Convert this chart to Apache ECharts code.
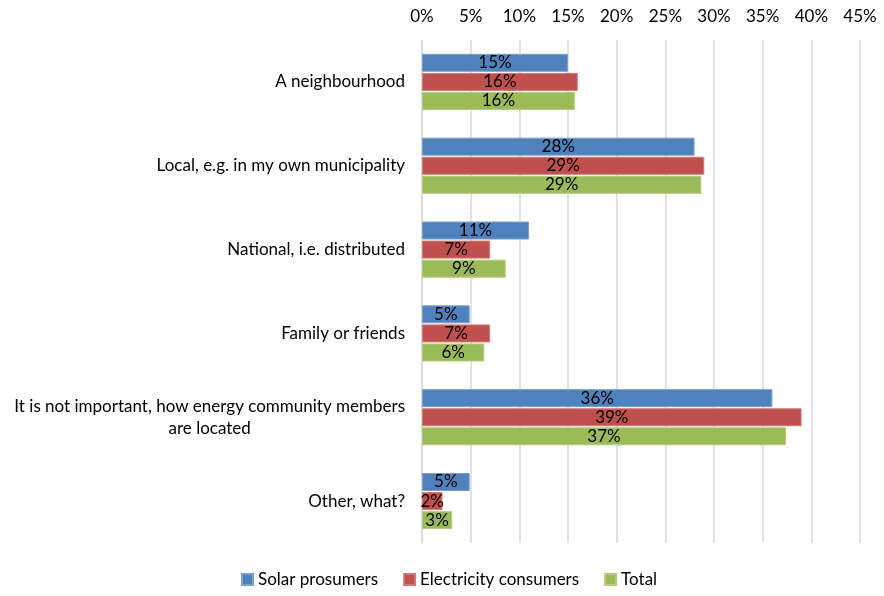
<!DOCTYPE html>
<html>
<head>
<meta charset="utf-8">
<script src="https://cdn.jsdelivr.net/npm/echarts@6/dist/echarts.min.js"></script>
<style>
  html, body { margin: 0; padding: 0; background: #fff; }
  #chart { width: 884px; height: 596px; }
</style>
</head>
<body>
<div id="chart"></div>
<script>
// Where energy community members should be located (share of respondents, %)
const categories = [
  'A neighbourhood',
  'Local, e.g. in my own municipality',
  'National, i.e. distributed',
  'Family or friends',
  'It is not important, how energy community members\nare located',
  'Other, what?'
];
const solarProsumers = [15.0, 28.0, 11.0, 4.9, 36.0, 4.9];
const electricityConsumers = [16.0, 29.0, 7.0, 7.0, 39.0, 2.1];
const total = [15.7, 28.7, 8.6, 6.4, 37.4, 3.1];
const xTicks = [0, 5, 10, 15, 20, 25, 30, 35, 40, 45];

const FONT = 'Lato';
const chart = echarts.init(document.getElementById('chart'), null, { renderer: 'canvas' });

function barSeries(name, data, color, border) {
  return {
    name: name,
    type: 'bar',
    data: data,
    barWidth: 18,
    barGap: '6%',
    itemStyle: { color: color, borderColor: border, borderWidth: 1 },
    label: {
      show: true,
      position: 'inside',
      color: '#000',
      fontFamily: FONT,
      fontSize: 17,
      formatter: p => Math.round(p.value) + '%'
    }
  };
}

chart.setOption({
  backgroundColor: '#fff',
  animation: false,
  grid: { left: 422, right: 24, top: 40, bottom: 53 },
  legend: {
    bottom: 3,
    left: 236,
    itemWidth: 11,
    itemHeight: 11,
    itemGap: 25,
    icon: 'rect',
    textStyle: { fontFamily: FONT, fontSize: 17, color: '#000' },
    data: ['Solar prosumers', 'Electricity consumers', 'Total']
  },
  xAxis: {
    type: 'value',
    position: 'top',
    min: xTicks[0],
    max: xTicks[xTicks.length - 1],
    interval: 5,
    axisLine: { show: false },
    axisTick: { show: false },
    splitLine: { show: true, lineStyle: { color: '#D9D9D9', width: 1.5 } },
    axisLabel: {
      fontFamily: FONT, fontSize: 17, color: '#000', margin: 15,
      formatter: v => v + '%'
    }
  },
  yAxis: {
    type: 'category',
    data: categories,
    inverse: true,
    axisLine: { show: true, lineStyle: { color: '#D9D9D9', width: 1.5 } },
    axisTick: { show: false },
    axisLabel: {
      margin: 17,
      fontFamily: FONT, fontSize: 17, color: '#000',
      formatter: v => v.split('\n').map(s => '{c|' + s + '}').join('\n'),
      rich: { c: { align: 'center', fontFamily: FONT, fontSize: 17, color: '#000', lineHeight: 22 } }
    }
  },
  series: [
    barSeries('Solar prosumers', solarProsumers, '#4F81BD', '#7BA0CD'),
    barSeries('Electricity consumers', electricityConsumers, '#C0504D', '#D07B79'),
    barSeries('Total', total, '#9BBB59', '#B3CC82')
  ]
});
</script>
</body>
</html>
